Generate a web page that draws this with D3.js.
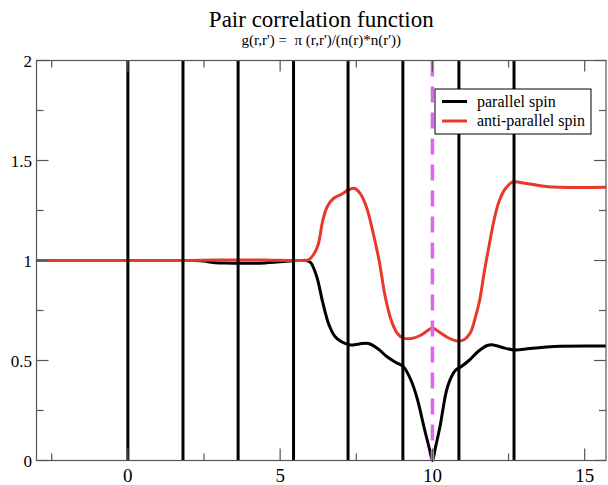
<!DOCTYPE html>
<html>
<head>
<meta charset="utf-8">
<script src="https://cdn.jsdelivr.net/npm/d3@7"></script>
<style>
  html, body { margin: 0; padding: 0; background: #fff; }
  svg { display: block; }
  text { font-family: "Liberation Serif", "Times New Roman", serif; fill: #000; }
</style>
</head>
<body>
<svg id="chart" width="608" height="485"></svg>
<script>
// ---- Data ----
const titleText = "Pair correlation function";
const subtitleText = "g(r,r') =  \u03c0 (r,r')/(n(r)*n(r'))";
const seriesNames = ["parallel spin", "anti-parallel spin"];
const xTicks = [0, 5, 10, 15];
const yTicks = [0, 0.5, 1, 1.5, 2];
const yTickLabels = ["0", "0.5", "1", "1.5", "2"];
const xMinor = [-2.5, 2.5, 7.5, 12.5];
const yMinor = [0.25, 0.75, 1.25, 1.75];
const shellLines = [0, 1.81, 3.62, 5.44, 7.23, 9.03, 10.87, 12.68];
const markerLine = [10];

const parallelX = [-3, -1.5, 0, 1, 1.8, 2.2, 2.5, 2.8, 3.2, 3.6, 4.1, 4.5, 4.8, 5.1, 5.4, 5.7, 5.85, 6.0, 6.2, 6.4, 6.6, 6.8, 7.0, 7.3, 7.6, 7.9, 8.2, 8.5, 8.8, 9.05, 9.3, 9.5, 9.75, 9.9, 10.0, 10.1, 10.25, 10.5, 10.75, 10.95, 11.2, 11.5, 11.8, 12.0, 12.3, 12.7, 13.2, 14.0, 15.7];
const parallelY = [1.0, 1.0, 1.0, 1.0, 1.0, 1.0, 0.997, 0.99, 0.987, 0.986, 0.986, 0.988, 0.991, 0.995, 0.999, 1.0, 1.0, 0.99, 0.92, 0.79, 0.68, 0.62, 0.595, 0.578, 0.583, 0.585, 0.56, 0.52, 0.49, 0.469, 0.40, 0.31, 0.15, 0.06, 0.0, 0.065, 0.17, 0.37, 0.45, 0.47, 0.50, 0.545, 0.575, 0.578, 0.565, 0.553, 0.56, 0.57, 0.572];

const antiX = [-3, -1.5, 0, 1.5, 3, 4.5, 5.5, 5.8, 5.95, 6.1, 6.25, 6.4, 6.55, 6.75, 7.0, 7.27, 7.45, 7.65, 7.85, 8.05, 8.25, 8.45, 8.65, 8.85, 9.05, 9.3, 9.6, 9.85, 10.0, 10.2, 10.5, 10.85, 11.05, 11.25, 11.4, 11.55, 11.7, 11.88, 12.05, 12.2, 12.4, 12.65, 12.8, 13.3, 14.0, 15.7];
const antiY = [1.0, 1.0, 1.0, 1.0, 1.002, 1.002, 1.0, 1.0, 1.005, 1.03, 1.08, 1.2, 1.27, 1.31, 1.33, 1.355, 1.36, 1.33, 1.26, 1.14, 1.0, 0.82, 0.70, 0.635, 0.612, 0.610, 0.625, 0.65, 0.662, 0.645, 0.615, 0.597, 0.605, 0.64, 0.71, 0.80, 0.94, 1.09, 1.22, 1.30, 1.36, 1.394, 1.392, 1.38, 1.367, 1.366];

// ---- Layout ----
const svg = d3.select("#chart");
const L = 36.5, R = 606, T = 60.5, B = 460.5;
const x = d3.scaleLinear().domain([-3, 15.7]).range([L, R]);
const y = d3.scaleLinear().domain([0, 2]).range([B, T]);

const colors = ["#000000", "#e8382a"];
const magenta = "#e263f5";

// Title
svg.append("text").attr("x", (L + R) / 2).attr("y", 27).attr("text-anchor", "middle")
  .attr("font-size", 23).text(titleText);
svg.append("text").attr("x", (L + R) / 2).attr("y", 45).attr("text-anchor", "middle")
  .attr("font-size", 15).style("white-space", "pre").text(subtitleText);

// Curves
const line = d3.line().x(d => x(d[0])).y(d => y(d[1])).curve(d3.curveCatmullRom.alpha(0.5));
const parallel = parallelX.map((v, i) => [v, parallelY[i]]);
const anti = antiX.map((v, i) => [v, antiY[i]]);

const plot = svg.append("g");
plot.append("path").datum(parallel).attr("d", line).attr("fill", "none")
  .attr("stroke", colors[0]).attr("stroke-width", 3);
plot.append("path").datum(anti).attr("d", line).attr("fill", "none")
  .attr("stroke", colors[1]).attr("stroke-width", 3);

// Shell lines
plot.selectAll("line.shell").data(shellLines).enter().append("line")
  .attr("class", "shell")
  .attr("x1", d => x(d)).attr("x2", d => x(d))
  .attr("y1", y(0)).attr("y2", y(2))
  .attr("stroke", "#000").attr("stroke-width", 3);

// Marker dashed line
plot.selectAll("line.marker").data(markerLine).enter().append("line")
  .attr("x1", d => x(d)).attr("x2", d => x(d))
  .attr("y1", y(2)).attr("y2", y(0))
  .attr("stroke", magenta).attr("stroke-width", 3.5)
  .attr("stroke-dasharray", "16,10");

// Frame
svg.append("rect").attr("x", L).attr("y", T).attr("width", R - L).attr("height", B - T)
  .attr("fill", "none").attr("stroke", "#555").attr("stroke-width", 1.2);

// Ticks (inward, mirrored)
const tk = svg.append("g").attr("stroke", "#555").attr("stroke-width", 1.2);
xTicks.forEach(v => {
  tk.append("line").attr("x1", x(v)).attr("x2", x(v)).attr("y1", B).attr("y2", B - 12);
  tk.append("line").attr("x1", x(v)).attr("x2", x(v)).attr("y1", T).attr("y2", T + 11);
});
xMinor.forEach(v => {
  tk.append("line").attr("x1", x(v)).attr("x2", x(v)).attr("y1", B).attr("y2", B - 7);
  tk.append("line").attr("x1", x(v)).attr("x2", x(v)).attr("y1", T).attr("y2", T + 7);
});
yTicks.forEach(v => {
  tk.append("line").attr("y1", y(v)).attr("y2", y(v)).attr("x1", L).attr("x2", L + 12);
  tk.append("line").attr("y1", y(v)).attr("y2", y(v)).attr("x1", R).attr("x2", R - 12);
});
yMinor.forEach(v => {
  tk.append("line").attr("y1", y(v)).attr("y2", y(v)).attr("x1", L).attr("x2", L + 7);
  tk.append("line").attr("y1", y(v)).attr("y2", y(v)).attr("x1", R).attr("x2", R - 7);
});

// Tick labels
svg.selectAll("text.xl").data(xTicks).enter().append("text")
  .attr("x", d => x(d)).attr("y", 482).attr("text-anchor", "middle")
  .attr("font-size", 19).text(d => d);
svg.selectAll("text.yl").data(yTicks).enter().append("text")
  .attr("x", 32).attr("y", d => y(d) + 6).attr("text-anchor", "end")
  .attr("font-size", 17).text((d, i) => yTickLabels[i]);

// Legend
const lg = svg.append("g");
lg.append("rect").attr("x", 435).attr("y", 89).attr("width", 156).attr("height", 45)
  .attr("fill", "#fff").attr("stroke", "#000").attr("stroke-width", 1);
seriesNames.forEach((n, i) => {
  const yy = 101.5 + i * 19.5;
  lg.append("line").attr("x1", 442).attr("x2", 467).attr("y1", yy).attr("y2", yy)
    .attr("stroke", colors[i]).attr("stroke-width", 3);
  lg.append("text").attr("x", 477).attr("y", yy + 5).attr("font-size", 16).text(n);
});
</script>
</body>
</html>
